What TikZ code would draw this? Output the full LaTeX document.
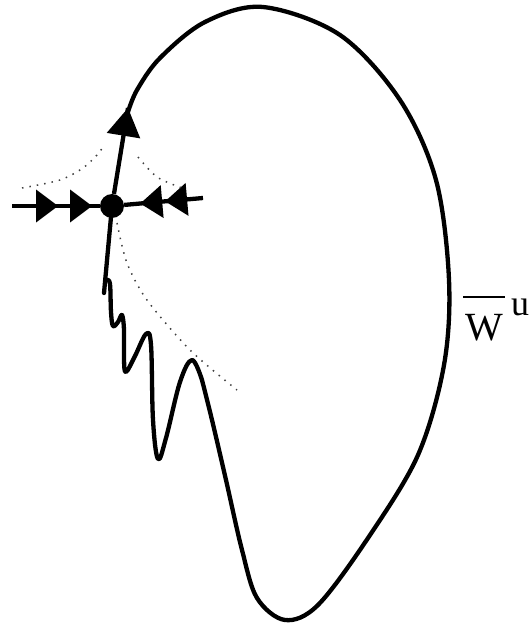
\documentclass[tikz,border=0pt]{standalone}
\usepackage{fontspec}
\setmainfont{Liberation Serif}
\usetikzlibrary{decorations.markings}
\begin{document}
\begin{tikzpicture}[x=1pt,y=-1pt,
  curve/.style={line width=4.3pt, line join=round, line cap=round},
  dotline/.style={black!75, line width=1.5pt, dash pattern=on 1.5pt off 6pt},
  lab/.style={inner sep=0pt, anchor=base}]
\useasboundingbox (0,0) rectangle (531,628);
\def\trihead{\fill (0pt,-16.5pt) -- (0pt,16.5pt) -- (22pt,0pt) -- cycle;}
\def\bighead{\fill (0pt,-17pt) -- (0pt,17pt) -- (28pt,0pt) -- cycle;}
% fixed point
\node[circle, fill, minimum size=24pt, inner sep=0pt] (p) at (112,206) {};
\coordinate (L) at (12,206);
\coordinate (R) at (203,198);
\coordinate (tip) at (128,108);
\coordinate (ws) at (104,293);
% stable directions
\draw[curve, line cap=butt, postaction={decorate}, decoration={markings,
   mark=at position 24pt with {\trihead},
   mark=at position 58pt with {\trihead}}] (L) -- (p);
\draw[curve, line cap=butt, postaction={decorate}, decoration={markings,
   mark=at position 16pt with {\trihead},
   mark=at position 41pt with {\trihead}}] (R) -- (p);
% unstable direction
\draw[curve, line cap=butt, postaction={decorate}, decoration={markings,
   mark=at position 1 with {\begin{scope}[xshift=-28pt]\bighead\end{scope}}}] (p) -- (tip);
\draw[curve] (p) -- (ws);
% homoclinic loop with oscillations
\draw[curve] plot[smooth, tension=0.6] coordinates {
 (107,280) (110,284) (111,312) (113,326) (118,322) (122,315) (124,330) (124,360)
 (126,372) (135,356) (146,334) (151,345) (153,420) (158,459) (166,438)
 (180,382) (192,360) (202,380)}
 plot[smooth, tension=0.55] coordinates {
 (202,380) (212,420) (226,480) (242,550) (257,598) (285,620) (318,605)
 (368,538) (418,455) (444,365) (449,280) (436,180) (400,100) (340,35)
 (263,7) (205,22) (160,58) (137,90) (128,112)};
% dotted curves
\draw[dotline] plot[smooth] coordinates {(22,188) (60,180) (83,168) (97,155) (103,147)};
\draw[dotline] plot[smooth] coordinates {(138,157) (157,177) (182,188)};
\draw[dotline] plot[smooth] coordinates {(117,223) (127,263) (147,300) (190,350) (237,390)};
% label
\node[lab, font=\fontsize{40}{40}\selectfont] (W) at (484,340) {W};
\node[lab, font=\fontsize{36}{36}\selectfont] (u) at (520,315) {u};
\draw[line width=1.2pt] (463,297) -- (505,297);
\end{tikzpicture}
\end{document}
